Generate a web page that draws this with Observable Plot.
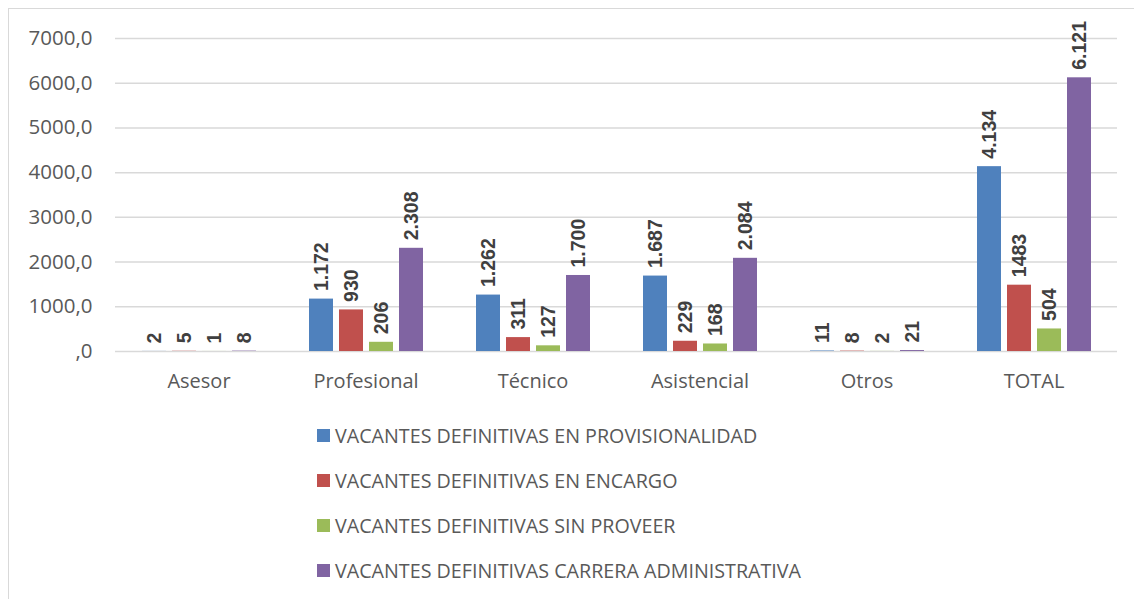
<!DOCTYPE html>
<html>
<head>
<meta charset="utf-8">
<script src="https://cdn.jsdelivr.net/npm/d3@7"></script>
<script src="https://cdn.jsdelivr.net/npm/@observablehq/plot@0.6"></script>
<style>
  html, body { margin: 0; padding: 0; background: #fff; }
  #wrap { position: relative; width: 1134px; height: 599px; overflow: hidden; }
  #frame { position: absolute; left: 8px; top: 8px; width: 1140px; height: 700px; border: 1.5px solid #d9d9d9; box-sizing: border-box; }
  #chart { position: absolute; left: 0; top: 0; }
  #legend { position: absolute; left: 317px; top: 413px; font-family: "Open Sans", sans-serif; font-size: 19.7px; color: #595959; }
  .item { height: 45px; display: flex; align-items: center; }
  .sw { width: 13px; height: 13px; margin-right: 5px; flex: none; }
</style>
</head>
<body>
<div id="wrap">
  <div id="frame"></div>
  <div id="chart"></div>
  <div id="legend"></div>
</div>
<script>
const categories = ["Asesor", "Profesional", "Técnico", "Asistencial", "Otros", "TOTAL"];
const seriesNames = [
  "VACANTES DEFINITIVAS EN PROVISIONALIDAD",
  "VACANTES DEFINITIVAS EN ENCARGO",
  "VACANTES DEFINITIVAS SIN PROVEER",
  "VACANTES DEFINITIVAS CARRERA ADMINISTRATIVA"
];
const seriesColors = ["#4f81bd", "#c0504d", "#9bbb59", "#8064a2"];

const provisionalidad = [2, 1172, 1262, 1687, 11, 4134];
const encargo = [5, 930, 311, 229, 8, 1483];
const sinProveer = [1, 206, 127, 168, 2, 504];
const carrera = [8, 2308, 1700, 2084, 21, 6121];

const labelsProvisionalidad = ["2", "1.172", "1.262", "1.687", "11", "4.134"];
const labelsEncargo = ["5", "930", "311", "229", "8", "1483"];
const labelsSinProveer = ["1", "206", "127", "168", "2", "504"];
const labelsCarrera = ["8", "2.308", "1.700", "2.084", "21", "6.121"];

const yTicks = [0, 1000, 2000, 3000, 4000, 5000, 6000, 7000];

const seriesValues = [provisionalidad, encargo, sinProveer, carrera];
const seriesLabels = [labelsProvisionalidad, labelsEncargo, labelsSinProveer, labelsCarrera];

const rows = categories.flatMap((c, i) =>
  seriesNames.map((s, j) => ({category: c, serie: s, value: seriesValues[j][i], label: seriesLabels[j][i]}))
);

const fmt = d => d === 0 ? ",0" : d.toFixed(1).replace(".", ",");

const chart = Plot.plot({
  width: 1134,
  height: 400,
  marginLeft: 115,
  marginRight: 17,
  marginTop: 38,
  marginBottom: 49,
  style: {fontFamily: "'Open Sans', sans-serif", fontSize: "20px", color: "#595959", background: "transparent", overflow: "visible"},
  fx: {domain: categories, padding: 0},
  x: {domain: seriesNames, paddingInner: 0.213, paddingOuter: 0.844, axis: null},
  y: {domain: [0, 7000]},
  color: {domain: seriesNames, range: seriesColors},
  marks: [
    Plot.gridY(yTicks, {stroke: "#d9d9d9", strokeOpacity: 1, strokeWidth: 1.5}),
    Plot.axisY(yTicks, {tickSize: 0, tickPadding: 23, tickFormat: fmt, label: null, fontSize: 20.5}),
    Plot.axisFx({anchor: "bottom", tickSize: 0, tickPadding: 22, label: null, fontSize: 20}),
    Plot.barY(rows, {fx: "category", x: "serie", y: "value", fill: "serie"}),
    Plot.text(rows, {
      fx: "category", x: "serie", y: "value", text: "label",
      rotate: -90, textAnchor: "start", dy: -8,
      fontWeight: "bold", fontSize: 19.5, fontFamily: "'Liberation Sans', Arial, sans-serif", fill: "#404040"
    })
  ]
});
document.getElementById("chart").appendChild(chart);

const legend = document.getElementById("legend");
seriesNames.forEach((name, i) => {
  const item = document.createElement("div");
  item.className = "item";
  const sw = document.createElement("span");
  sw.className = "sw";
  sw.style.background = seriesColors[i];
  const t = document.createElement("span");
  t.textContent = name;
  item.appendChild(sw);
  item.appendChild(t);
  legend.appendChild(item);
});
</script>
</body>
</html>
